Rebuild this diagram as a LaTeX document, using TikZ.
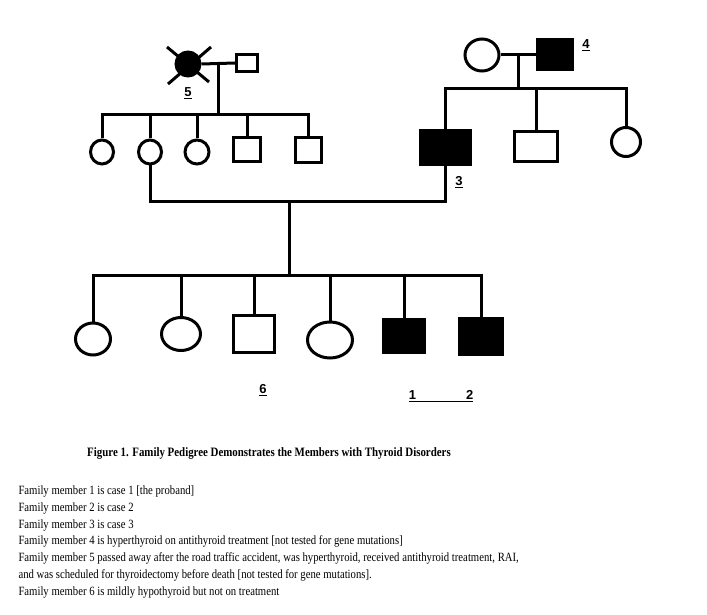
\documentclass[tikz,border=0pt]{standalone}
\usepackage{fontspec}
\setmainfont{Liberation Serif}[FakeStretch=0.85]
\setsansfont{Liberation Sans}
\usetikzlibrary{shapes.geometric,positioning,calc}

\begin{document}
\begin{tikzpicture}[x=1pt,y=-1pt,line width=3pt,
  fem/.style={draw,ellipse,inner sep=0pt},
  male/.style={draw,rectangle,inner sep=0pt},
  hit/.style={fill=black},
  num/.style={font=\fontsize{13}{15}\sffamily\bfseries,inner sep=1pt},
  txt/.style={font=\fontsize{12.6}{16.9}\selectfont,align=left,inner sep=0pt}]
\useasboundingbox (0,0) rectangle (707,615);
% generation I
\node (d5) [fem,hit,minimum width=24,minimum height=24] at (188,64) {};
\node (h5) [male,minimum width=21,minimum height=17] at (247,63) {};
\node (w4) [fem,minimum width=34,minimum height=32] at (482,55) {};
\node (g4) [male,hit,minimum width=35,minimum height=30] at (555,55) {};
\draw (d5.center) ++(-21,-17) -- ++(42,35);
\draw (d5.center) ++(23,-17) -- ++(-43,37);
% generation II
\node (a1) [fem,minimum width=23,minimum height=24] at (102,152) {};
\node (m2) [fem,minimum width=23,minimum height=24] at (150,152) {};
\node (a3) [fem,minimum width=24,minimum height=24] at (197,152) {};
\node (u4) [male,minimum width=27,minimum height=24] at (247,150) {};
\node (u5) [male,minimum width=26,minimum height=25] at (308,150) {};
\node (p3) [male,hit,minimum width=50,minimum height=34] at (445,148) {};
\node (b2) [male,minimum width=43,minimum height=30] at (536,147) {};
\node (s3) [fem,minimum width=29,minimum height=29] at (626,142) {};
% generation III
\node (k1) [fem,minimum width=35,minimum height=32] at (93,339) {};
\node (k2) [fem,minimum width=39,minimum height=33] at (181,334) {};
\node (k3) [male,minimum width=41,minimum height=37] at (254,334) {};
\node (k4) [fem,minimum width=45,minimum height=36] at (330,340) {};
\node (k5) [male,hit,minimum width=41,minimum height=33] at (404,336) {};
\node (k6) [male,hit,minimum width=43,minimum height=36] at (481,336) {};
% marriages and sibships
\coordinate (mr5) at ($(d5.east)!0.5!(h5.west)$);
\coordinate (mr4) at ($(w4.east)!0.5!(g4.west)$);
\coordinate (sib5) at (mr5 |- 0,115);
\coordinate (sib4) at (mr4 |- 0,89);
\coordinate (mate) at (289,201);
\coordinate (sib6) at (mate |- 0,275);
\draw (d5.east) -- (h5.west);
\draw (w4.east) -- (g4.west);
\draw (mr5) -- (sib5);
\draw (mr4) -- (sib4);
\draw (a1.north) |- (sib5) -| (u5.north);
\foreach \k in {m2,a3,u4} \draw (\k.north) -- (\k.north |- sib5);
\draw (p3.north) |- (sib4) -| (s3.north);
\draw (b2.north) -- (b2.north |- sib4);
\draw (m2.south) |- (mate) -| (p3.south);
\draw (mate) -- (sib6);
\draw (k1.north) |- (sib6) -| (k6.north);
\foreach \k in {k2,k3,k4,k5} \draw (\k.north) -- (\k.north |- sib6);
% member numbers
\node (n5) [num] at (188,93) {\underline{5}};
\node (n4) [num] at (586,45) {\underline{4}};
\node (n3) [num] at (459,182) {\underline{3}};
\node (n6) [num] at (263,390) {\underline{6}};
\node (n12) [num] at (441,396) {\underline{1\hspace{50pt}2}};
% caption and legend
\node (cap) [txt,font=\fontsize{12.8}{15}\bfseries] at (269,453) {Figure 1. Family Pedigree Demonstrates the Members with Thyroid Disorders};
\node (leg) [txt,anchor=north west] at (17,484) {Family member 1 is case 1 [the proband]\\
Family member 2 is case 2\\
Family member 3 is case 3\\
Family member 4 is hyperthyroid on antithyroid treatment [not tested for gene mutations]\\
Family member 5 passed away after the road traffic accident, was hyperthyroid, received antithyroid treatment, RAI,\\
and was scheduled for thyroidectomy before death [not tested for gene mutations].\\
Family member 6 is mildly hypothyroid but not on treatment};
\end{tikzpicture}
\end{document}
